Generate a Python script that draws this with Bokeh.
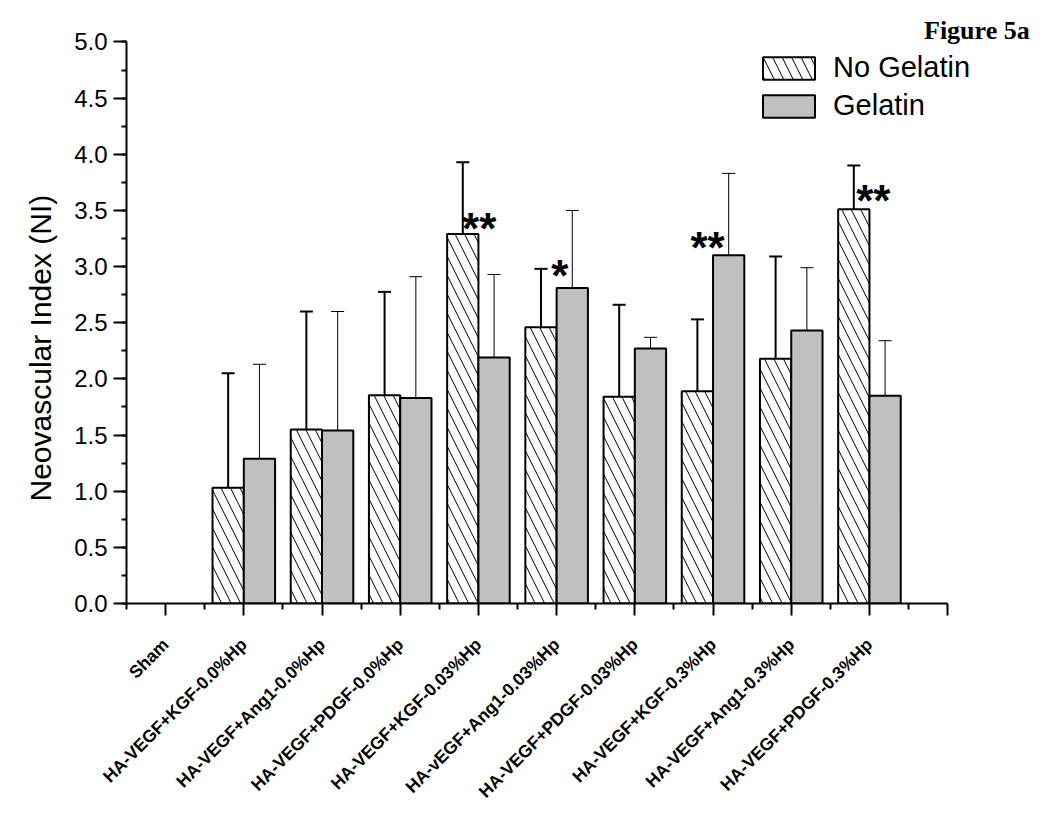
import math
from bokeh.plotting import figure
from bokeh.models import (ColumnDataSource, Range1d, FixedTicker, SingleIntervalTicker,
                          Whisker, TeeHead, Legend, LegendItem, Label, Title,
                          PrintfTickFormatter)
from bokeh.core.properties import value
from bokeh.embed import file_html
from bokeh.resources import INLINE

NAN = float("nan")
categories = ["Sham", "HA-VEGF+KGF-0.0%Hp", "HA-VEGF+Ang1-0.0%Hp", "HA-VEGF+PDGF-0.0%Hp",
              "HA-VEGF+KGF-0.03%Hp", "HA-vEGF+Ang1-0.03%Hp", "HA-VEGF+PDGF-0.03%Hp",
              "HA-VEGF+KGF-0.3%Hp", "HA-VEGF+Ang1-0.3%Hp", "HA-VEGF+PDGF-0.3%Hp"]
no_gelatin = [NAN, 1.03, 1.55, 1.855, 3.29, 2.46, 1.84, 1.89, 2.18, 3.51]
no_gelatin_err = [NAN, 1.02, 1.05, 0.92, 0.64, 0.52, 0.82, 0.64, 0.91, 0.39]
gelatin = [NAN, 1.29, 1.54, 1.83, 2.19, 2.81, 2.27, 3.10, 2.43, 1.85]
gelatin_err = [NAN, 0.84, 1.06, 1.08, 0.74, 0.69, 0.10, 0.73, 0.56, 0.49]
star_text = ["**", "*", "**", "**"]
star_cat = [4.01, 5.04, 6.93, 9.05]
star_y = [3.39, 2.97, 3.22, 3.64]
y_tick_step = 0.5

FONT = "Liberation Sans"
BAR_W = 0.4

xs = list(range(len(categories)))
src_n = ColumnDataSource(dict(
    x=[i - BAR_W / 2 for i in xs], top=no_gelatin,
    upper=[v + e for v, e in zip(no_gelatin, no_gelatin_err)]))
src_g = ColumnDataSource(dict(
    x=[i + BAR_W / 2 for i in xs], top=gelatin,
    upper=[v + e for v, e in zip(gelatin, gelatin_err)]))

p = figure(width=1045, height=813, output_backend="svg", toolbar_location=None,
           x_range=Range1d(-0.5, 11.20), y_range=Range1d(0, 5.316),
           min_border_left=126, min_border_right=4, min_border_top=6,
           min_border_bottom=210)
p.outline_line_color = None
p.xgrid.visible = False
p.ygrid.visible = False
p.background_fill_color = "white"

# error bars (upper only)
p.add_layout(Whisker(source=src_n, base="x", upper="upper", lower="top",
                     line_width=2, line_color="black",
                     upper_head=TeeHead(size=13, line_width=2, line_color="black"),
                     lower_head=None, level="glyph"))
p.add_layout(Whisker(source=src_g, base="x", upper="upper", lower="top",
                     line_width=1, line_color="black",
                     upper_head=TeeHead(size=13, line_width=1, line_color="black"),
                     lower_head=None, level="glyph"))

r_n = p.vbar(x="x", top="top", width=BAR_W, bottom=0, source=src_n,
             fill_color="white", line_color="black", line_width=2,
             hatch_pattern="\\", hatch_scale=19, hatch_weight=1, hatch_color="black")
r_g = p.vbar(x="x", top="top", width=BAR_W, bottom=0, source=src_g,
             fill_color="#c0c0c0", line_color="black", line_width=2)

# significance stars
p.text(x=star_cat, y=star_y, text=star_text, text_font=value(FONT),
       text_font_style="bold", text_font_size="44px", text_align="center",
       text_baseline="middle", y_offset=6, text_color="black")

# x axis
xa = p.xaxis[0]
xa.bounds = (-0.5, 10.0)
xa.ticker = FixedTicker(ticks=list(range(11)), minor_ticks=[i + 0.5 for i in range(-1, 10)])
xa.major_label_overrides = {i: c for i, c in enumerate(categories)} | {10: ""}
xa.major_label_orientation = math.pi / 4
xa.major_label_text_font = FONT
xa.major_label_text_font_style = "bold"
xa.major_label_text_font_size = "17.5px"
xa.major_label_text_color = "black"
xa.major_label_standoff = 26
xa.axis_line_width = 2
xa.major_tick_line_width = 2
xa.minor_tick_line_width = 2
xa.major_tick_out = 12
xa.major_tick_in = 0
xa.minor_tick_out = 6
xa.minor_tick_in = 0

# y axis
ya = p.yaxis[0]
ya.bounds = (0, 5.0)
ya.ticker = SingleIntervalTicker(interval=y_tick_step, num_minor_ticks=2)
ya.formatter = PrintfTickFormatter(format="%.1f")
ya.major_label_text_font = FONT
ya.major_label_text_font_size = "24px"
ya.major_label_text_color = "black"
ya.major_label_standoff = 6
ya.axis_line_width = 2
ya.major_tick_line_width = 2
ya.minor_tick_line_width = 2
ya.major_tick_out = 13
ya.major_tick_in = 0
ya.minor_tick_out = 5
ya.minor_tick_in = 0

# y axis title (left title so that it can sit below centre like the original)
p.add_layout(Title(text="Neovascular Index (NI)", align="left", offset=102,
                   text_font=FONT, text_font_style="normal", text_font_size="30px",
                   text_color="black", standoff=29), "left")

legend = Legend(items=[LegendItem(label="No Gelatin", renderers=[r_n]),
                       LegendItem(label="Gelatin", renderers=[r_g])],
                location=(630, 481), border_line_color=None, background_fill_alpha=0,
                padding=0, margin=0, spacing=5, glyph_width=65, glyph_height=28,
                label_standoff=12, label_text_font=FONT, label_text_font_size="29px",
                label_text_color="black")
p.add_layout(legend, "center")

p.add_layout(Label(x=11.049, y=5.102, text="Figure 5a",
                   text_font="Liberation Serif", text_font_style="bold",
                   text_font_size="26px", text_align="right", text_baseline="alphabetic",
                   text_color="black"))

open("out.html", "w").write(file_html(p, INLINE))
